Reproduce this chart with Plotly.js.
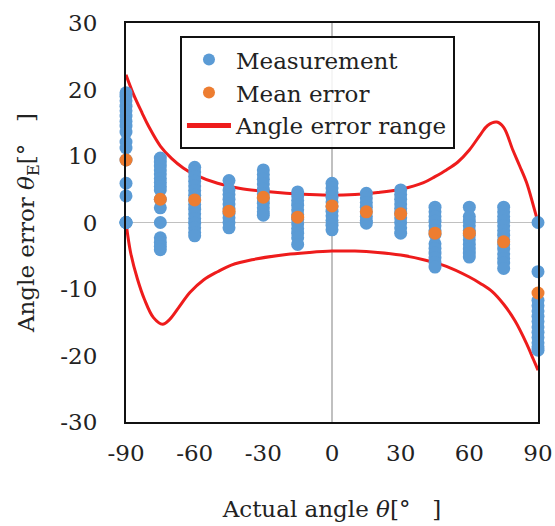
<!DOCTYPE html>
<html><head><meta charset="utf-8">
<script src="https://cdn.plot.ly/plotly-3.0.1.min.js"></script>
<style>html,body{margin:0;padding:0;background:#fff}</style>
</head><body><div id="chart" style="width:555px;height:526px"></div>
<script>
// Measurement angles (deg)
const angles = [-90, -75, -60, -45, -30, -15, 0, 15, 30, 45, 60, 75, 90];
// Mean error at each angle
const meanError = [9.4, 3.5, 3.4, 1.7, 3.8, 0.8, 2.5, 1.6, 1.3, -1.6, -1.6, -2.9, -10.6];
// Measurement errors per angle
const errM90 = [19.5, 19.0, 18.3, 17.5, 16.8, 16.0, 15.2, 14.5, 13.6, 12.1, 11.2, 9.4, 5.9, 4.0, 0, 0, 0, 0];
const errM75 = [9.7, 9.1, 8.5, 7.9, 7.3, 6.6, 6.0, 5.4, 4.9, 3.5, 2.2, 0, -2.3, -3.0, -3.6, -4.1];
const errM60 = [8.3, 7.6, 6.9, 6.2, 5.5, 4.8, 4.1, 3.4, 2.7, 2.0, 1.3, 0.6, -0.1, -0.8, -1.5, -2.0];
const errM45 = [6.3, 4.9, 4.2, 3.5, 2.8, 2.1, 1.4, 0.7, 0.0, -0.8];
const errM30 = [7.9, 7.2, 6.5, 5.8, 5.0, 4.3, 3.6, 2.9, 2.2, 1.6, 1.1];
const errM15 = [4.6, 4.0, 3.3, 2.6, 1.9, 1.2, 0.5, -0.2, -0.9, -1.6, -2.3, -3.3];
const err0   = [5.9, 5.2, 4.5, 3.8, 3.1, 2.4, 1.7, 1.0, 0.3, -0.4, -1.1];
const errP15 = [4.4, 3.7, 3.0, 2.3, 1.6, 0.9, 0.3, -0.1];
const errP30 = [4.9, 4.2, 3.5, 2.8, 2.1, 1.4, 0.7, 0, -0.8, -1.6];
const errP45 = [2.3, 1.6, 0.9, 0.2, -0.5, -1.2, -1.8, -3.2, -3.9, -4.6, -5.3, -6.0, -6.7];
const errP60 = [2.3, 0.9, 0.2, -0.5, -1.2, -1.9, -2.6, -3.3, -4.0, -4.6, -5.2];
const errP75 = [2.3, 1.6, 0.9, 0.2, -0.5, -1.2, -1.9, -2.6, -3.3, -4.0, -4.7, -5.4, -6.1, -6.9];
const errP90 = [0, -7.4, -11.7, -12.5, -13.3, -14.1, -14.9, -15.7, -16.5, -17.3, -18.1, -18.7, -19.2];
const errByAngle = [errM90, errM75, errM60, errM45, errM30, errM15, err0, errP15, errP30, errP45, errP60, errP75, errP90];

// Angle error range curves
const upperX = [-90, -87, -83, -80, -75, -70, -65, -60, -50, -40, -30, -20, -10, 0, 10, 20, 30, 40, 45, 50, 55, 60, 65, 68, 72, 75, 79, 82, 85, 88, 90];
const upperY = [22.2, 19.5, 16.5, 14.4, 11.5, 9.6, 8.2, 7.2, 5.9, 5.1, 4.7, 4.4, 4.2, 4.1, 4.2, 4.5, 5.0, 6.0, 6.9, 7.9, 9.1, 10.9, 13.3, 14.6, 15.1, 14.3, 10.9, 8.5, 6.0, 2.5, 0];
const lowerX = [-90, -88, -85, -82, -78, -74, -71, -67, -62, -56, -50, -44, -35, -20, -10, 0, 10, 20, 30, 40, 50, 60, 65, 70, 75, 80, 85, 88, 90];
const lowerY = [0, -4.5, -8.5, -11.5, -14.3, -15.3, -14.6, -12.8, -10.5, -8.6, -7.4, -6.4, -5.6, -4.8, -4.5, -4.3, -4.3, -4.5, -4.9, -5.6, -6.6, -8.2, -9.2, -10.4, -12.3, -14.8, -18.2, -20.6, -22.2];

const measX = [], measY = [];
angles.forEach((a, i) => errByAngle[i].forEach(v => { measX.push(a); measY.push(v); }));

const FONT = 'DejaVu Serif';
const FS = 23;
const TXT = '#222';
const red = '#ee1c1c';

const traces = [
  {x: upperX, y: upperY, mode: 'lines', line: {color: red, width: 3, shape: 'spline', smoothing: 1},
   name: 'Angle error range', legendrank: 3, cliponaxis: false},
  {x: lowerX, y: lowerY, mode: 'lines', line: {color: red, width: 3, shape: 'spline', smoothing: 1},
   name: 'Angle error range', showlegend: false, cliponaxis: false},
  {x: measX, y: measY, mode: 'markers', marker: {color: '#5b9bd5', size: 13},
   name: 'Measurement', legendrank: 1, cliponaxis: false},
  {x: angles, y: meanError, mode: 'markers', marker: {color: '#ed7d31', size: 13},
   name: 'Mean error', legendrank: 2, cliponaxis: false}
];

const layout = {
  width: 555, height: 526,
  margin: {l: 126, r: 17, t: 23, b: 104},
  paper_bgcolor: '#fff', plot_bgcolor: '#fff',
  font: {family: FONT, size: FS, color: TXT},
  showlegend: true,
  legend: {x: 0.131, y: 0.967, xanchor: 'left', yanchor: 'top',
           bgcolor: 'rgba(255,255,255,0.85)', bordercolor: '#111', borderwidth: 2,
           font: {family: FONT, size: FS, color: TXT}, itemsizing: 'constant',
           itemwidth: 44, tracegroupgap: 0},
  xaxis: {range: [-90, 90], tickvals: [-90, -60, -30, 0, 30, 60, 90],
          ticktext: ['-90', '-60', '-30', '0', '30', '60', '90'],
          tickfont: {family: FONT, size: FS, color: TXT},
          showgrid: false, zeroline: true, zerolinecolor: '#c0c0c0', zerolinewidth: 1.5,
          showline: true, linecolor: '#111', linewidth: 2, mirror: true,
          ticks: 'outside', ticklen: 9, tickcolor: 'rgba(0,0,0,0)',
          title: {text: 'Actual angle <i>θ</i>[°\u00a0\u00a0\u00a0]', font: {family: FONT, size: FS, color: TXT}, standoff: 36}},
  yaxis: {range: [-30, 30], tickvals: [-30, -20, -10, 0, 10, 20, 30],
          ticktext: ['-30', '-20', '-10', '0', '10', '20', '30'],
          tickfont: {family: FONT, size: FS, color: TXT},
          showgrid: false, zeroline: true, zerolinecolor: '#c0c0c0', zerolinewidth: 1.5,
          showline: true, linecolor: '#111', linewidth: 2, mirror: true,
          ticks: 'outside', ticklen: 22, tickcolor: 'rgba(0,0,0,0)',
          title: {text: 'Angle error <i>θ</i><sub>E</sub>[°\u00a0\u00a0\u00a0]', font: {family: FONT, size: FS, color: TXT}, standoff: 19}}
};

Plotly.newPlot('chart', traces, layout, {displayModeBar: false, staticPlot: true});
</script>
</body></html>
